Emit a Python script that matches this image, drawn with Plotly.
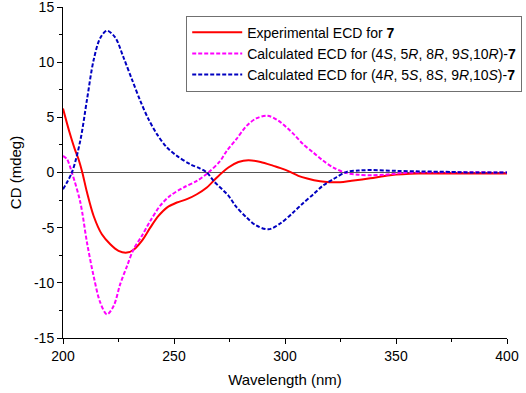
import plotly.graph_objects as go

# Experimental ECD (red)
exp_x = [200, 203, 205.5, 207, 208.7, 210.8, 213.8, 217.5, 221.3, 225, 228.8, 231.8, 235.5, 239.3,
         243, 246.8, 251.3, 255.8, 260.3, 264.8, 269.3, 274.5, 279, 283.5, 289, 294.8, 298, 302.3,
         306, 310, 315.8, 320, 324.8, 330, 338.4, 347.3, 360, 375, 400]
exp_y = [5.8, 3.6, 2.0, 1.2, 0.0, -1.8, -3.94, -5.6, -6.5, -7.1, -7.26, -7.0, -6.2, -5.0,
         -3.94, -3.18, -2.72, -2.42, -1.97, -1.36, -0.45, 0.45, 0.95, 1.12, 0.95, 0.6, 0.4, 0.06,
         -0.3, -0.55, -0.8, -0.88, -0.88, -0.75, -0.52, -0.25, -0.1, -0.1, -0.1]

# Calculated ECD for (4S,5R,8R,9S,10R)-7 (magenta)
calc1_x = [200, 201.8, 204, 207.8, 210.8, 213.8, 216.8, 219.8, 222.8, 225.8, 228.8, 231.8, 235.5,
           239.3, 243.8, 248.3, 254.3, 260.3, 265.5, 270.8, 273.8, 278, 282.8, 287, 292.1, 297,
           303.8, 308, 312.8, 317, 321.8, 327.8, 333, 339, 345, 350, 356, 400]
calc1_y = [1.5, 1.2, 0.0, -2.7, -6.35, -9.4, -11.8, -12.86, -12.1, -10.1, -8.5, -6.96, -5.75,
           -4.4, -3.0, -2.1, -1.36, -0.76, 0.0, 1.05, 1.97, 3.0, 4.25, 4.9, 5.15, 4.7,
           3.5, 2.6, 1.8, 1.1, 0.45, -0.06, -0.2, -0.25, -0.2, -0.1, 0.0, 0.0]

# Calculated ECD for (4R,5S,8S,9R,10S)-7 (blue)
calc2_x = [200, 204, 207.8, 210.8, 213.8, 216.8, 219.8, 223.5, 227.3, 231, 234.8, 238.5, 242.3,
           246.8, 251.3, 257.3, 261.8, 264.8, 268, 274.5, 278, 282.8, 287, 292.5, 298, 303.8,
           308, 312.8, 317, 321.8, 327.8, 333, 338.4, 350, 361, 375, 383, 400]
calc2_y = [-1.52, 0.0, 2.9, 6.6, 10.2, 12.2, 12.85, 12.25, 10.4, 8.47, 6.5, 4.84, 3.48,
           2.27, 1.51, 0.75, 0.36, 0.0, -0.8, -2.1, -3.1, -4.1, -4.8, -5.15, -4.6, -3.6,
           -2.8, -1.97, -1.2, -0.6, 0.06, 0.18, 0.22, 0.15, 0.1, 0.05, 0.0, 0.0]

x_ticks = [200, 250, 300, 350, 400]
x_minor = [225, 275, 325, 375]
y_ticks = [-15, -10, -5, 0, 5, 10, 15]
y_ticktext = ["-15", "-10", "-5", "0", "5", "10", "15"]
y_minor = [-12.5, -7.5, -2.5, 2.5, 7.5, 12.5]

names = [
    "Experimental ECD for <b>7</b>",
    "Calculated ECD for (4<i>S</i>, 5<i>R</i>, 8<i>R</i>, 9<i>S</i>,10<i>R</i>)-<b>7</b>",
    "Calculated ECD for (4<i>R</i>, 5<i>S</i>, 8<i>S</i>, 9<i>R</i>,10<i>S</i>)-<b>7</b>",
]

font = "Liberation Sans, Arial, sans-serif"

fig = go.Figure()
fig.add_trace(go.Scatter(x=exp_x, y=exp_y, mode="lines", name=names[0],
                         line=dict(color="#ff0000", width=2, shape="spline", smoothing=0.9)))
fig.add_trace(go.Scatter(x=calc1_x, y=calc1_y, mode="lines", name=names[1],
                         line=dict(color="#ff00ff", width=2, dash="4px,2px", shape="spline", smoothing=0.9)))
fig.add_trace(go.Scatter(x=calc2_x, y=calc2_y, mode="lines", name=names[2],
                         line=dict(color="#0000c0", width=2, dash="4px,2px", shape="spline", smoothing=0.9)))

fig.update_layout(
    width=526, height=393,
    margin=dict(l=63, r=19, t=7, b=55, autoexpand=False),
    paper_bgcolor="white", plot_bgcolor="white",
    font=dict(family=font, size=13, color="black"),
    showlegend=True,
    legend=dict(x=0.2775, y=0.974, xanchor="left", yanchor="top",
                bordercolor="#707070", borderwidth=1, bgcolor="white", itemwidth=50,
                font=dict(size=14, family=font), tracegroupgap=0),
    xaxis=dict(range=[200, 400], tickvals=x_ticks, showline=True, linecolor="black", linewidth=1,
               ticks="outside", ticklen=5, tickcolor="black", showgrid=False, zeroline=False,
               minor=dict(tickvals=x_minor, ticks="outside", ticklen=3, tickcolor="black"),
               tickfont=dict(size=14), automargin=False, ticklabeloverflow="allow",
               title=dict(text="Wavelength (nm)", font=dict(size=15), standoff=11)),
    yaxis=dict(range=[-15, 15], tickvals=y_ticks, ticktext=y_ticktext, showline=True,
               linecolor="black", linewidth=1, ticks="outside", ticklen=5, tickcolor="black",
               showgrid=False, zeroline=True, zerolinecolor="#555555", zerolinewidth=1,
               minor=dict(tickvals=y_minor, ticks="outside", ticklen=3, tickcolor="black"),
               tickfont=dict(size=14), automargin=False, ticklabeloverflow="allow",
               title=dict(text="CD (mdeg)", font=dict(size=15), standoff=8)),
)

fig.write_html("out.html", config={"displayModeBar": False},
               post_script="document.body.style.margin='0';")
